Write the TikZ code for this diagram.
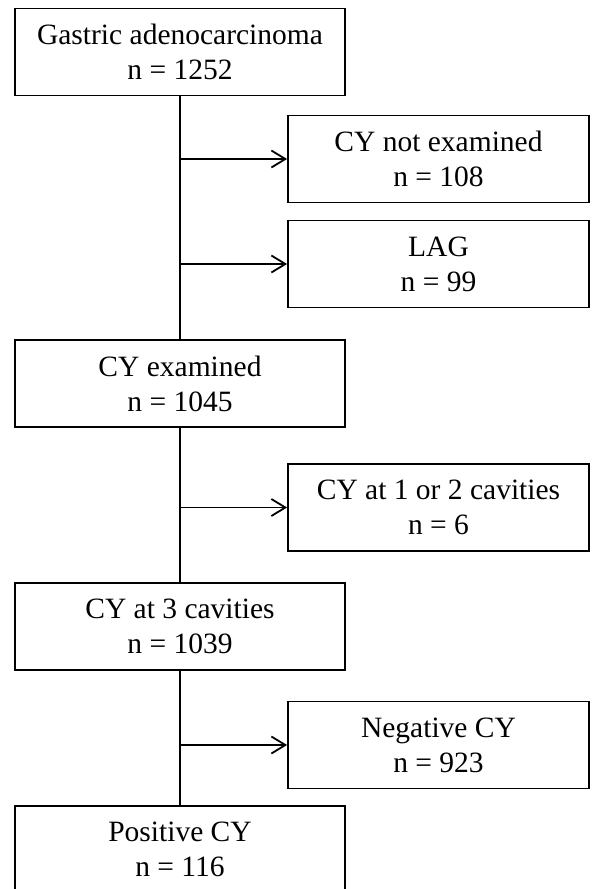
\documentclass[tikz,border=0pt]{standalone}
\usepackage{fontspec}
\setmainfont{Liberation Serif}
\usetikzlibrary{arrows.meta}

\begin{document}
\begin{tikzpicture}[x=1pt,y=1pt,yscale=-1,xscale=1,
  mainbox/.style={draw,line width=1.8pt,minimum width=330pt,minimum height=87pt,align=center,inner sep=0pt,font=\fontsize{29.5}{35}\selectfont},
  sidebox/.style={mainbox,minimum width=301pt},
  flow/.style={line width=1.8pt},
  branch/.style={flow,-{Straight Barb[length=14pt,width=17pt]}}]
\useasboundingbox (0,0) rectangle (592,889);

% Left column
\node [mainbox] (gastric) at (180,52) {Gastric adenocarcinoma\\n = 1252};
\node [mainbox] (cyexam) at (180,383.5) {CY examined\\n = 1045};
\node [mainbox] (cythree) at (180,626.5) {CY at 3 cavities\\n = 1039};
\node [mainbox] (poscy) at (180,849.5) {Positive CY\\n = 116};

% Right column
\node [sidebox] (cynot) at (438.5,159) {CY not examined\\n = 108};
\node [sidebox] (lag) at (438.5,264) {LAG\\n = 99};
\node [sidebox] (cyonetwo) at (438.5,507.5) {CY at 1 or 2 cavities\\n = 6};
\node [sidebox] (negcy) at (438.5,745) {Negative CY\\n = 923};

% Straight Lines
\draw [flow] (gastric.south) -- (cyexam.north);
\draw [flow] (cyexam.south) -- (cythree.north);
\draw [flow] (cythree.south) -- (poscy.north);

% Arrows
\draw [branch] (gastric.south |- cynot.west) -- (cynot.west);
\draw [branch] (gastric.south |- lag.west) -- (lag.west);
\draw [branch] (cyexam.south |- cyonetwo.west) -- (cyonetwo.west);
\draw [branch] (cythree.south |- negcy.west) -- (negcy.west);

\end{tikzpicture}
\end{document}
